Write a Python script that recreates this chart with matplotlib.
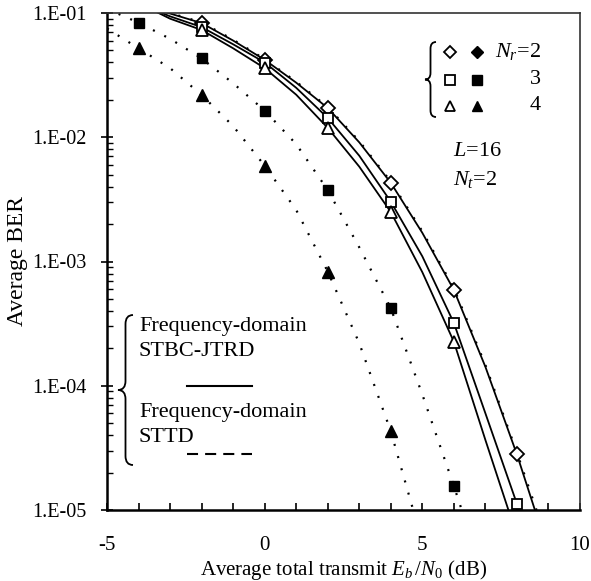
import numpy as np
import matplotlib
matplotlib.use("Agg")
import matplotlib.pyplot as plt
from matplotlib.path import Path
from matplotlib.patches import PathPatch
from matplotlib.ticker import FixedLocator, FuncFormatter, NullFormatter

plt.rcParams["font.family"] = ["Liberation Serif", "DejaVu Serif"]
plt.rcParams["mathtext.fontset"] = "custom"
plt.rcParams["mathtext.rm"] = "Liberation Serif"
plt.rcParams["mathtext.it"] = "Liberation Serif:italic"
plt.rcParams["axes.unicode_minus"] = False

# simulated points (markers)
x_sim = [-2, 0, 2, 4, 6, 8]
ber_jtrd_nr2 = [0.083, 0.042, 0.0172, 0.0043, 5.9e-4, 2.8e-5]
ber_jtrd_nr3 = [0.077, 0.0396, 0.0143, 0.00303, 3.2e-4, 1.12e-5]
x_sim_nr4 = [-2, 0, 2, 4, 6]
ber_jtrd_nr4 = [0.073, 0.036, 0.0119, 0.0025, 2.26e-4]

x_sttd_nr3 = [-4, -2, 0, 2, 4, 6]
ber_sttd_nr3 = [0.0836, 0.0431, 0.0164, 0.00376, 4.2e-4, 1.56e-5]
x_sttd_nr4 = [-4, -2, 0, 2, 4]
ber_sttd_nr4 = [0.052, 0.0219, 0.0059, 8.3e-4, 4.3e-5]

# theoretical curves
xc_jtrd_nr2 = [-3.5, -3, -2, -1, 0, 1, 2, 3, 4, 5, 6, 7, 8, 8.57]
bc_jtrd_nr2 = [0.108, 0.099, 0.083, 0.060, 0.042, 0.0275, 0.0172, 0.0091,
               0.0043, 0.0017, 5.9e-4, 1.42e-4, 2.8e-5, 1.0e-5]
xc_jtrd_nr3 = [-3.5, -3, -2, -1, 0, 1, 2, 3, 4, 5, 6, 7, 8, 8.05]
bc_jtrd_nr3 = [0.106, 0.094, 0.077, 0.056, 0.040, 0.025, 0.0143, 0.0071,
               0.00303, 0.0011, 3.2e-4, 6.0e-5, 1.12e-5, 1.0e-5]
xc_jtrd_nr4 = [-3.5, -3, -2, -1, 0, 1, 2, 3, 4, 5, 6, 7, 7.73]
bc_jtrd_nr4 = [0.104, 0.09, 0.073, 0.052, 0.036, 0.022, 0.0119, 0.0058,
               0.0025, 8.2e-4, 2.26e-4, 3.66e-5, 1.0e-5]

xc_sttd_nr2 = [-3.5, -3, -2, -1, 0, 1, 2, 3, 4, 5, 6, 7, 8, 8.62]
bc_sttd_nr2 = [0.111, 0.100, 0.084, 0.061, 0.0425, 0.028, 0.0175, 0.0093,
               0.0044, 0.00175, 6.1e-4, 1.47e-4, 2.9e-5, 1.0e-5]
xc_sttd_nr3 = [-5, -4, -3, -2, -1, 0, 1, 2, 3, 4, 5, 6, 6.25]
bc_sttd_nr3 = [0.108, 0.0836, 0.062, 0.0431, 0.0272, 0.0164, 0.0088, 0.00376,
               0.0013, 4.2e-4, 8.5e-5, 1.56e-5, 1.0e-5]
xc_sttd_nr4 = [-5, -4, -3, -2, -1, 0, 1, 2, 3, 4, 4.71]
bc_sttd_nr4 = [0.075, 0.052, 0.036, 0.0219, 0.0123, 0.0059, 0.0026, 8.3e-4,
               2.2e-4, 4.3e-5, 1.0e-5]

W, H = 591, 581
fig = plt.figure(figsize=(W / 100, H / 100), dpi=100)
ax = fig.add_axes([107 / W, 1 - 510 / H, 473 / W, 497 / H])

def fp(x, y):
    # pixel (from top-left) -> figure fraction
    return x / W, 1 - y / H

dots = (0, (0.9, 4.8))
for xc, bc in [(xc_jtrd_nr2, bc_jtrd_nr2), (xc_jtrd_nr3, bc_jtrd_nr3),
               (xc_jtrd_nr4, bc_jtrd_nr4)]:
    ax.plot(xc, bc, color="black", lw=1.3, zorder=2)
for xc, bc in [(xc_sttd_nr2, bc_sttd_nr2), (xc_sttd_nr3, bc_sttd_nr3),
               (xc_sttd_nr4, bc_sttd_nr4)]:
    ax.plot(xc, bc, color="black", lw=1.6, linestyle=dots, zorder=2)

open_kw = dict(ls="none", mfc="white", mec="black", mew=1.3, zorder=4)
ax.plot(x_sim, ber_jtrd_nr2, marker="D", ms=7, **open_kw)
ax.plot(x_sim, ber_jtrd_nr3, marker="s", ms=7.5, **open_kw)
ax.plot(x_sim_nr4, ber_jtrd_nr4, marker="^", ms=8.5, **open_kw)
ax.plot(x_sttd_nr3, ber_sttd_nr3, marker="s", ms=7.5, ls="none", color="black", zorder=4)
ax.plot(x_sttd_nr4, ber_sttd_nr4, marker="^", ms=8.5, ls="none", color="black", zorder=4)

ax.set_yscale("log")
ax.set_xlim(-5, 10)
ax.set_ylim(1e-5, 1e-1)

ax.xaxis.set_major_locator(FixedLocator([-5, 0, 5, 10]))
ax.xaxis.set_minor_locator(FixedLocator(np.arange(-5, 11, 1)))
ax.yaxis.set_major_locator(FixedLocator([1e-5, 1e-4, 1e-3, 1e-2, 1e-1]))
ax.yaxis.set_minor_locator(FixedLocator(
    [m * 10.0 ** e for e in range(-5, -1) for m in range(2, 10)]))
ax.yaxis.set_major_formatter(FuncFormatter(lambda v, p: "1.E-%02d" % round(-np.log10(v))))
ax.yaxis.set_minor_formatter(NullFormatter())

ax.tick_params(axis="x", which="both", direction="in", length=5, width=1.2,
               labelsize=15, pad=19, top=False)
ax.tick_params(axis="y", which="major", direction="inout", length=8, width=1.2,
               labelsize=14.5, pad=11, right=False)
ax.tick_params(axis="y", which="minor", direction="in", length=4, width=1.0, right=False)

for s in ["left", "bottom"]:
    ax.spines[s].set_linewidth(1.8)
for s in ["top", "right"]:
    ax.spines[s].set_linewidth(1.2)
    ax.spines[s].set_color("#333333")

ax.set_xlabel(r"Average total transmit $E_b\,/N_0$ (dB)", fontsize=15, labelpad=2)
ax.set_ylabel("Average BER", fontsize=17, labelpad=3)

def brace(x, y0, y1, w):
    ym = (y0 + y1) / 2
    xa, xb, xt = x + w, x + w * 0.5, x
    r = w * 0.6
    pts = [(xa, y0), (xb, y0), (xb, y0 + r), (xb, ym - r), (xb, ym), (xt, ym),
           (xb, ym), (xb, ym + r), (xb, y1 - r), (xb, y1), (xa, y1)]
    codes = [Path.MOVETO, Path.CURVE3, Path.CURVE3, Path.LINETO, Path.CURVE3,
             Path.CURVE3, Path.CURVE3, Path.CURVE3, Path.LINETO, Path.CURVE3,
             Path.CURVE3]
    verts = [fp(px, py) for px, py in pts]
    fig.patches.append(PathPatch(Path(verts, codes), transform=fig.transFigure,
                                 fill=False, lw=1.3, color="black"))

# receive-antenna key (top right)
brace(425, 42, 117, 11)
key_rows = [("D", 52, "$N_r$=2", 6.5), ("s", 80, "3", 6.5), ("^", 106, "4", 7.5)]
for mk, yy, label, ms in key_rows:
    fig.add_artist(plt.Line2D([fp(450, yy)[0]], [fp(450, yy)[1]], marker=mk, ms=ms,
                              mfc="white", mec="black", mew=1.3, ls="none",
                              transform=fig.transFigure))
    fig.add_artist(plt.Line2D([fp(477, yy)[0]], [fp(477, yy)[1]], marker=mk, ms=ms,
                              color="black", ls="none", transform=fig.transFigure))
    fig.text(*fp(541, yy), label, fontsize=16, ha="right", va="center")

fig.text(*fp(453, 152), "$L$=16", fontsize=16, ha="left", va="center")
fig.text(*fp(453, 180), "$N_t$=2", fontsize=16, ha="left", va="center")

# scheme key (bottom left)
brace(118, 315, 465, 15)
fig.text(*fp(139, 327), "Frequency-domain", fontsize=16, ha="left", va="center")
fig.text(*fp(139, 352), "STBC-JTRD", fontsize=16, ha="left", va="center")
fig.add_artist(plt.Line2D([fp(187, 386)[0], fp(252, 386)[0]], [fp(0, 386)[1]] * 2,
                          color="black", lw=1.5, transform=fig.transFigure))
fig.text(*fp(139, 412), "Frequency-domain", fontsize=16, ha="left", va="center")
fig.text(*fp(139, 437), "STTD", fontsize=16, ha="left", va="center")
fig.add_artist(plt.Line2D([fp(187, 454)[0], fp(252, 454)[0]], [fp(0, 454)[1]] * 2,
                          color="black", lw=1.5, ls=(0, (5.3, 3.4)), transform=fig.transFigure))

fig.savefig("out.png", dpi=100)
